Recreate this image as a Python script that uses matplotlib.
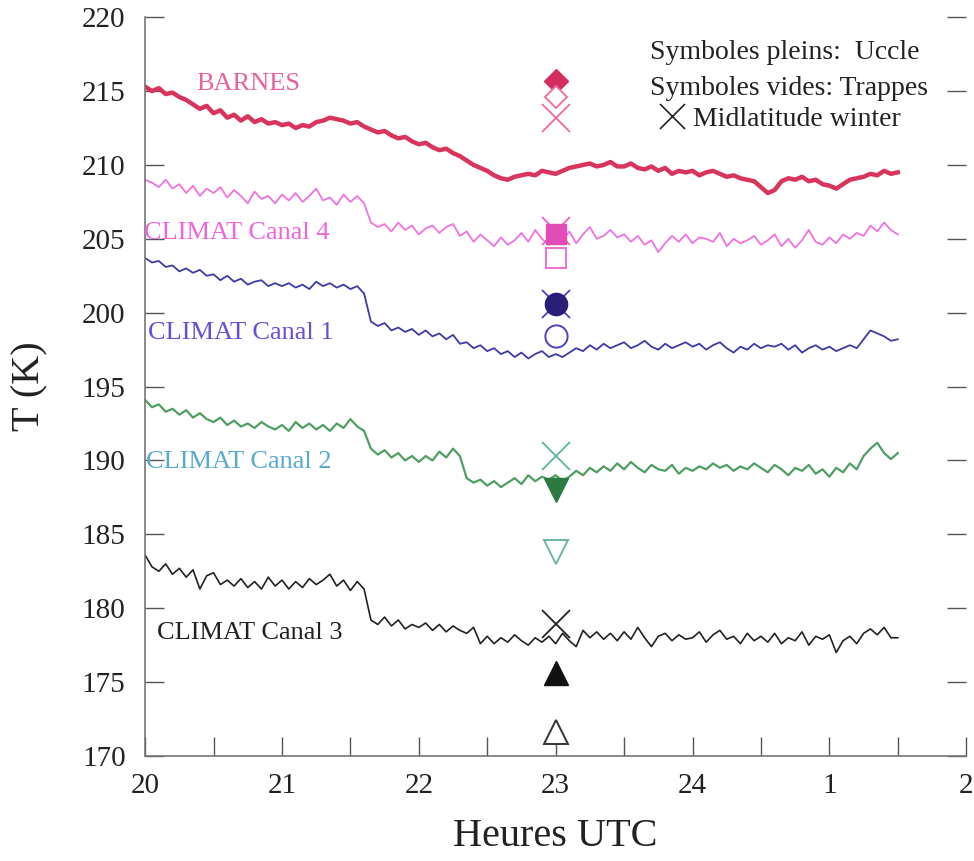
import numpy as np
import matplotlib
matplotlib.use("Agg")
import matplotlib.pyplot as plt
from matplotlib.ticker import MultipleLocator

plt.rcParams['font.family'] = ['Liberation Serif', 'DejaVu Serif']

# sampling times (hours, 20h -> 01h30 next day = 25.5)
hours = np.round(np.arange(20.0, 25.5001, 0.05), 2)

barnes = [
    215.3, 215.0, 215.2, 214.8, 214.9, 214.6, 214.4, 214.1, 213.8, 214.0,
    213.5, 213.7, 213.2, 213.4, 213.0, 213.3, 212.9, 213.1, 212.8, 212.9,
    212.7, 212.8, 212.5, 212.7, 212.6, 212.9, 213.0, 213.2, 213.1, 213.0,
    212.8, 212.9, 212.6, 212.4, 212.2, 212.3, 212.0, 211.8, 211.9, 211.6,
    211.4, 211.5, 211.2, 211.0, 211.1, 210.8, 210.6, 210.3, 210.0, 209.8,
    209.6, 209.3, 209.1, 209.0, 209.2, 209.3, 209.4, 209.3, 209.6, 209.5,
    209.4, 209.6, 209.8, 209.9, 210.0, 210.1, 209.9, 210.0, 210.2, 209.9,
    209.9, 210.1, 209.8, 209.7, 209.9, 209.6, 209.8, 209.4, 209.6, 209.5,
    209.6, 209.3, 209.5, 209.6, 209.4, 209.2, 209.3, 209.1, 209.0, 208.9,
    208.5, 208.1, 208.3, 208.9, 209.1, 209.0, 209.2, 208.9, 209.0, 208.7,
    208.6, 208.4, 208.7, 209.0, 209.1, 209.2, 209.4, 209.3, 209.6, 209.4, 209.5,
]

canal4 = [
    209.0, 208.8, 208.5, 209.0, 208.4, 208.7, 208.1, 208.6, 207.9, 208.4,
    208.1, 208.5, 207.8, 208.3, 207.9, 207.4, 208.2, 207.7, 207.9, 207.4,
    208.0, 207.6, 208.1, 207.5, 207.9, 208.4, 207.6, 207.8, 207.3, 208.0,
    207.5, 207.9, 207.4, 206.1, 205.8, 206.0, 205.5, 206.1, 205.6, 205.9,
    205.3, 205.7, 205.9, 205.4, 205.8, 206.0, 205.2, 205.5, 204.8, 205.3,
    204.9, 204.5, 205.1, 204.6, 204.9, 205.4, 204.8, 205.6, 205.0, 204.6,
    205.4, 204.9, 205.5, 204.7, 205.3, 205.8, 205.0, 205.2, 205.6, 205.1,
    205.3, 204.8, 205.2, 204.6, 204.9, 204.1, 204.7, 205.2, 204.8, 205.3,
    204.7, 205.1, 205.0, 204.8, 205.4, 204.5, 205.0, 204.7, 204.9, 205.2,
    204.6, 204.9, 205.3, 204.5, 205.0, 204.4, 204.9, 205.6, 204.8, 204.6,
    205.1, 204.7, 205.3, 205.0, 205.4, 205.2, 205.9, 205.5, 206.1, 205.6, 205.3,
]

canal1 = [
    203.7, 203.4, 203.5, 203.1, 203.2, 202.8, 203.0, 202.7, 202.9, 202.5,
    202.6, 202.2, 202.5, 202.1, 202.3, 201.9, 202.1, 202.2, 201.8, 202.0,
    201.8, 202.0, 201.7, 201.9, 201.6, 202.1, 201.8, 202.0, 201.7, 201.9,
    201.6, 201.8, 201.3, 199.4, 199.1, 199.3, 198.8, 199.0, 198.7, 198.9,
    198.5, 198.8, 198.4, 198.6, 198.2, 198.5, 197.9, 198.0, 197.6, 197.8,
    197.4, 197.6, 197.2, 197.4, 197.0, 197.3, 196.9, 197.2, 197.4, 197.0,
    197.2, 197.0, 197.3, 197.6, 197.4, 197.8, 197.5, 197.9, 197.6, 197.8,
    198.0, 197.6, 197.8, 198.1, 197.7, 197.5, 197.9, 197.6, 197.8, 198.0,
    197.7, 197.9, 197.5, 197.8, 198.0, 197.6, 197.3, 197.7, 197.5, 197.9,
    197.6, 197.8, 197.7, 197.9, 197.5, 197.8, 197.3, 197.6, 197.8, 197.5,
    197.7, 197.4, 197.6, 197.8, 197.6, 198.2, 198.8, 198.6, 198.4, 198.1, 198.2,
]

canal2 = [
    194.1, 193.6, 193.8, 193.3, 193.5, 193.1, 193.4, 192.9, 193.2, 192.8,
    192.6, 192.9, 192.4, 192.7, 192.3, 192.5, 192.2, 192.6, 192.3, 192.1,
    192.4, 192.0, 192.6, 192.2, 192.5, 192.1, 192.4, 192.0, 192.5, 192.2,
    192.8, 192.3, 192.0, 190.8, 190.4, 190.7, 190.2, 190.5, 190.0, 190.3,
    189.9, 190.3, 190.0, 190.6, 190.2, 190.8, 190.3, 188.8, 188.5, 188.7,
    188.3, 188.6, 188.2, 188.5, 188.8, 188.4, 189.0, 188.6, 188.9, 188.7,
    189.0, 188.6, 188.9, 189.3, 189.0, 189.5, 189.2, 189.6, 189.3, 189.8,
    189.4, 189.9, 189.5, 189.2, 189.7, 189.4, 189.3, 189.7, 189.1, 189.5,
    189.3, 189.6, 189.4, 189.8, 189.5, 189.7, 189.3, 189.6, 189.4, 189.8,
    189.5, 189.2, 189.7, 189.4, 189.0, 189.5, 189.3, 189.7, 189.1, 189.4,
    188.9, 189.5, 189.2, 189.8, 189.4, 190.3, 190.8, 191.2, 190.5, 190.1, 190.5,
]

canal3 = [
    183.6, 182.8, 182.5, 183.0, 182.3, 182.7, 182.1, 182.6, 181.3, 182.2,
    182.4, 181.6, 181.9, 181.5, 182.0, 181.4, 181.8, 181.3, 182.1, 181.5,
    181.9, 181.3, 181.8, 181.4, 182.0, 181.6, 181.9, 182.3, 181.5, 181.9,
    181.2, 181.8, 181.3, 179.2, 178.9, 179.4, 178.8, 179.2, 178.6, 178.9,
    178.7, 179.0, 178.5, 178.9, 178.4, 178.8, 178.5, 178.3, 178.7, 177.6,
    178.1, 177.6, 178.0, 177.7, 178.2, 177.8, 177.5, 178.0, 177.7, 178.1,
    177.6, 178.3, 177.8, 177.4, 178.5, 178.0, 178.4, 177.9, 178.3, 177.8,
    178.4, 177.9, 178.7, 178.0, 177.4, 178.1, 178.3, 177.8, 178.2, 177.9,
    178.0, 178.4, 177.7, 178.2, 178.5, 177.9, 178.1, 177.6, 178.3, 177.8,
    178.1, 177.7, 178.3, 177.6, 178.0, 177.8, 178.4, 177.5, 178.1, 177.9,
    178.2, 177.0, 177.8, 178.1, 177.6, 178.3, 178.6, 178.2, 178.7, 178.0, 178.0,
]

# point values at 23 UTC: Uccle (filled), Trappes (open), Midlatitude winter (x)
marker_hour = 23.0
uccle = {'barnes': 215.7, 'c4': 205.3, 'c1': 200.6, 'c2': 188.0, 'c3': 175.6}
trappes = {'barnes': 214.6, 'c4': 203.7, 'c1': 198.4, 'c2': 183.8, 'c3': 171.6}
mlw = {'barnes': 213.2, 'c4': 205.5, 'c1': 200.6, 'c2': 190.3, 'c3': 178.9}

xticks = [20, 21, 22, 23, 24, 25, 26]
xticklabels = ['20', '21', '22', '23', '24', '1', '2']

fig = plt.figure(figsize=(9.74, 8.61), dpi=100)
ax = fig.add_axes([0.149, 0.122, 0.843, 0.858])

ax.plot(hours, barnes, color='#d8345c', lw=3.2)
ax.plot(hours, canal4, color='#ee72e2', lw=1.3)
ax.plot(hours, canal1, color='#3d3aa8', lw=1.3)
ax.plot(hours, canal2, color='#4f9e62', lw=1.6)
ax.plot(hours, canal3, color='#222222', lw=1.2)

# symbols at 23 UTC
styles = [
    ('barnes', 'D', '#d62d5f', '#ee6fa0', '#ef6aa2', 12, 11),
    ('c4', 's', '#e24cb6', '#ef70d0', '#ea62c8', 15, 15),
    ('c1', 'o', '#2a1f78', '#4c42c2', '#4c42c2', 16, 16),
    ('c2', 'v', '#2b7a40', '#6ab5a5', '#5ab5a0', 17, 17),
    ('c3', '^', '#111111', '#333333', '#222222', 17, 17),
]
for key, mk, fill, edge, xcol, ms_f, ms_o in styles:
    ax.plot(marker_hour, mlw[key], marker='x', ms=20, mew=1.3, color=xcol, ls='none')
    ax.plot(marker_hour, uccle[key], marker=mk, ms=ms_f, color=fill, mec=fill, ls='none')
    ax.plot(marker_hour, trappes[key], marker=mk, ms=ms_o, mfc='white', mec=edge,
            mew=1.4, ls='none')

lab_fs = 19
ax.text(20.37, 215.5, 'BARNES', color='#e8609e', fontsize=lab_fs, va='center')
ax.text(19.99, 205.4, 'CLIMAT Canal 4', color='#ee66dd', fontsize=lab_fs, va='center')
ax.text(20.02, 198.6, 'CLIMAT Canal 1', color='#6a4fd6', fontsize=lab_fs, va='center')
ax.text(20.01, 189.9, 'CLIMAT Canal 2', color='#5aaad0', fontsize=lab_fs, va='center')
ax.text(20.09, 178.3, 'CLIMAT Canal 3', color='#222222', fontsize=lab_fs, va='center')

leg_fs = 20
ax.text(23.69, 217.6, 'Symboles pleins:  Uccle', color='#222222', fontsize=leg_fs, va='center')
ax.text(23.69, 215.2, 'Symboles vides: Trappes', color='#222222', fontsize=leg_fs, va='center')
ax.plot(23.85, 213.3, marker='x', ms=18, mew=1.2, color='#222222', ls='none')
ax.text(24.0, 213.1, 'Midlatitude winter', color='#222222', fontsize=leg_fs, va='center')

ax.set_xlim(20, 26)
ax.set_ylim(170, 220)
ax.set_xticks(xticks)
ax.set_xticklabels(xticklabels)
ax.xaxis.set_minor_locator(MultipleLocator(0.5))
ax.yaxis.set_major_locator(MultipleLocator(5))

ax.spines['top'].set_visible(False)
ax.spines['right'].set_visible(False)
for s in ('left', 'bottom'):
    ax.spines[s].set_color('#777777')
    ax.spines[s].set_linewidth(1.2)

ax.tick_params(axis='both', which='major', direction='in', length=14, width=1.0,
               color='#555555', labelsize=21, labelcolor='#222222')
ax.tick_params(axis='y', which='both', right=True, pad=14)
ax.tick_params(axis='x', which='major', pad=12)
ax.tick_params(axis='x', which='minor', direction='in', length=14, width=1.0,
               color='#555555')

ax.set_xlabel('Heures UTC', fontsize=29, color='#222222', labelpad=14)
ax.set_ylabel('T (K)', fontsize=29, color='#222222', labelpad=24)

fig.savefig('out.png', dpi=100)
